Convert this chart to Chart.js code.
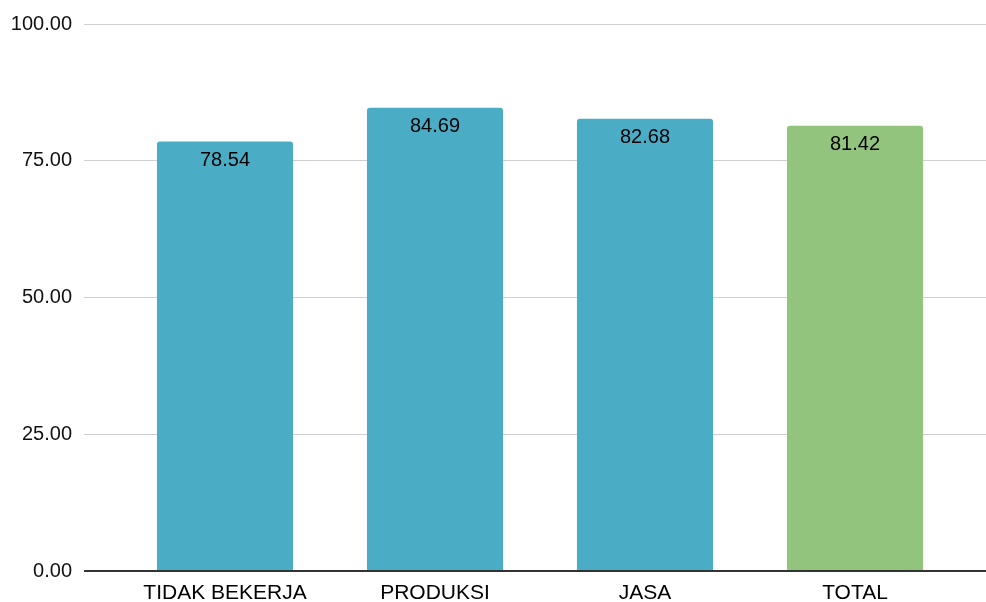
<!DOCTYPE html>
<html>
<head>
<meta charset="utf-8">
<script src="https://cdn.jsdelivr.net/npm/chart.js@4/dist/chart.umd.min.js"></script>
<style>
  html, body { margin: 0; padding: 0; background: #fff; }
  #wrap { width: 986px; height: 602px; }
</style>
</head>
<body>
<div id="wrap"><canvas id="chart" width="986" height="602"></canvas></div>
<script>
const categories = ["TIDAK BEKERJA", "PRODUKSI", "JASA", "TOTAL"];
const scores = [78.54, 84.69, 82.68, 81.42];
const barColors = ["#4bacc6", "#4bacc6", "#4bacc6", "#93c47d"];
const yTicks = [0, 25, 50, 75, 100];

const fontFamily = "'Liberation Sans', Arial, Helvetica, sans-serif";

function gridColor(ctx)
{
  return (ctx.tick && ctx.tick.value === 0) ? "#333333" : "#d0d0d0";
}

function gridWidth(ctx)
{
  return (ctx.tick && ctx.tick.value === 0) ? 2 : 1;
}

// values printed just inside the top of each bar
const barValueLabels = {
  id: "barValueLabels",
  afterDatasetsDraw(chart) {
    const ctx = chart.ctx;
    const meta = chart.getDatasetMeta(0);
    ctx.save();
    ctx.font = "20px " + fontFamily;
    ctx.fillStyle = "#000";
    ctx.textAlign = "center";
    ctx.textBaseline = "middle";
    meta.data.forEach(function (bar, i) {
      ctx.fillText(scores[i].toFixed(2), bar.x, bar.y + 19);
    });
    ctx.restore();
  }
};

const yScaleBase = {
  min: yTicks[0],
  max: yTicks[yTicks.length - 1],
  afterBuildTicks: function (scale) {
    scale.ticks = yTicks.map(v => ({ value: v }));
  },
  border: { display: false },
};

new Chart("chart", {
  type: "bar",
  data: {
    labels: categories,
    datasets: [{
      data: scores,
      backgroundColor: barColors,
      borderRadius: { topLeft: 3, topRight: 3, bottomLeft: 0, bottomRight: 0 },
      borderSkipped: "bottom",
      categoryPercentage: 1.0,
      barPercentage: 0.648
    }]
  },
  options: {
    responsive: false,
    animation: false,
    events: [],
    layout: { padding: { top: 23, right: 0, bottom: 0, left: 0 } },
    plugins: {
      legend: { display: false },
      tooltip: { enabled: false }
    },
    scales: {
      x: {
        grid: { display: false },
        border: { display: false },
        ticks: {
          color: "#000",
          padding: 2,
          maxRotation: 0,
          font: { family: fontFamily, size: 21 }
        },
        afterFit: function (scale) { scale.height = 31; }
      },
      y: Object.assign({}, yScaleBase, {
        position: "left",
        grid: { color: gridColor, lineWidth: gridWidth, tickLength: 36 },
        ticks: {
          color: "#111",
          padding: 12,
          font: { family: fontFamily, size: 20 },
          callback: function (v) { return Number(v).toFixed(2); }
        },
        afterFit: function (scale) { scale.width = 120; }
      }),
      // right-hand axis only carries the gridlines out to the edge
      y2: Object.assign({}, yScaleBase, {
        position: "right",
        grid: { color: gridColor, lineWidth: gridWidth, tickLength: 26, drawOnChartArea: false },
        ticks: { display: false },
        afterFit: function (scale) { scale.width = 26; }
      })
    }
  },
  plugins: [barValueLabels]
});
</script>
</body>
</html>
